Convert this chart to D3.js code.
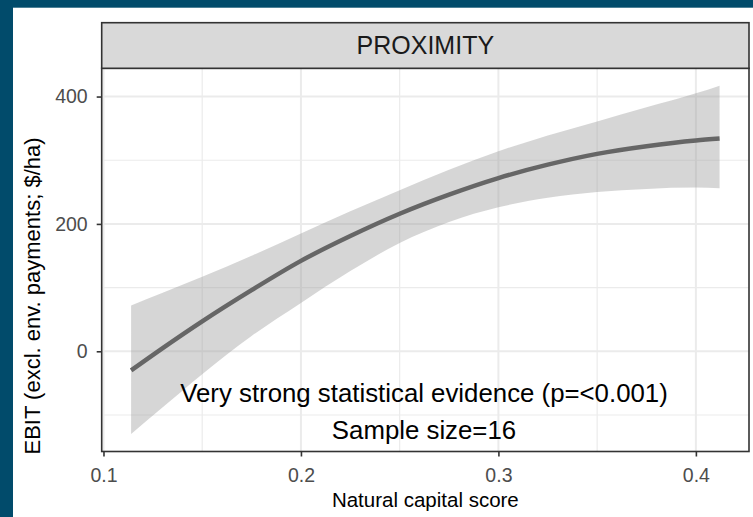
<!DOCTYPE html>
<html>
<head>
<meta charset="utf-8">
<script src="https://cdn.jsdelivr.net/npm/d3@7"></script>
<style>
  body { margin: 0; background: #ffffff; }
  svg { display: block; font-family: "Liberation Sans", Arial, sans-serif; }
</style>
</head>
<body>
<svg class="chart"></svg>
<script>
// values (natural capital score vs EBIT, $/ha)
const xScore    = [0.114, 0.13, 0.15, 0.175, 0.2, 0.225, 0.25, 0.275, 0.3, 0.325, 0.35, 0.375, 0.4, 0.412];
const fitEbit   = [-30, 5, 47, 96, 142, 181, 216, 246, 272, 293, 310, 322, 331, 334];
const lowerEbit = [-130, -88, -36, 24, 76, 126, 170, 203, 226, 241, 250, 255, 257, 256];
const upperEbit = [72, 92, 117, 150, 185, 220, 253, 285, 314, 339, 361, 383, 405, 417];

const xMajor = [0.1, 0.2, 0.3, 0.4];
const xMinor = [0.15, 0.25, 0.35];
const yMajor = [0, 200, 400];
const yMinor = [-100, 100, 300];

const stripLabel = 'PROXIMITY';
const xTitle = 'Natural capital score';
const yTitle = 'EBIT (excl. env. payments; $/ha)';
const notes = ['Very strong statistical evidence (p=<0.001)', 'Sample size=16'];

function drawChart() {
    const width = 753;
    const height = 517;
    const panel = {left: 101.7, right: 749, top: 68.3, bottom: 451.5};
    const strip = {top: 22.7, bottom: 68.3};

    let data = xScore.map((x, i) => ({x: x, fit: fitEbit[i], lo: lowerEbit[i], hi: upperEbit[i]}));

    // ggplot style 5% expansion
    let xExt = d3.extent(xScore);
    let xPad = (xExt[1] - xExt[0]) * 0.05;
    let yExt = [d3.min(lowerEbit), d3.max(upperEbit)];
    let yPad = (yExt[1] - yExt[0]) * 0.05;

    let x = d3.scaleLinear()
                .domain([xExt[0] - xPad, xExt[1] + xPad])
                .range([panel.left, panel.right]);
    let y = d3.scaleLinear()
                .domain([yExt[0] - yPad, yExt[1] + yPad])
                .range([panel.bottom, panel.top]);

    let svg = d3.select('.chart')
                .attr('width', width)
                .attr('height', height);

    // dark frame
    svg.append('rect')
        .attr('width', width).attr('height', height)
        .attr('fill', '#014b6b');
    svg.append('rect')
        .attr('x', 13).attr('y', 7.7)
        .attr('width', width - 13).attr('height', height - 7.7)
        .attr('fill', '#ffffff');

    // grid
    let grid = svg.append('g');
    grid.selectAll('.vminor').data(xMinor).enter().append('line')
        .attr('x1', d => x(d)).attr('x2', d => x(d))
        .attr('y1', panel.top).attr('y2', panel.bottom)
        .attr('stroke', '#ebebeb').attr('stroke-width', 1.2);
    grid.selectAll('.hminor').data(yMinor).enter().append('line')
        .attr('x1', panel.left).attr('x2', panel.right)
        .attr('y1', d => y(d)).attr('y2', d => y(d))
        .attr('stroke', '#ebebeb').attr('stroke-width', 1.2);
    grid.selectAll('.vmajor').data(xMajor).enter().append('line')
        .attr('x1', d => x(d)).attr('x2', d => x(d))
        .attr('y1', panel.top).attr('y2', panel.bottom)
        .attr('stroke', '#ebebeb').attr('stroke-width', 2);
    grid.selectAll('.hmajor').data(yMajor).enter().append('line')
        .attr('x1', panel.left).attr('x2', panel.right)
        .attr('y1', d => y(d)).attr('y2', d => y(d))
        .attr('stroke', '#ebebeb').attr('stroke-width', 2);

    // confidence ribbon + fitted line
    let area = d3.area()
                .x(d => x(d.x))
                .y0(d => y(d.lo))
                .y1(d => y(d.hi))
                .curve(d3.curveMonotoneX);
    let line = d3.line()
                .x(d => x(d.x))
                .y(d => y(d.fit))
                .curve(d3.curveMonotoneX);

    svg.append('path')
        .datum(data)
        .attr('d', area)
        .attr('fill', '#999999')
        .attr('fill-opacity', 0.4);
    svg.append('path')
        .datum(data)
        .attr('d', line)
        .attr('fill', 'none')
        .attr('stroke', '#666666')
        .attr('stroke-width', 4.5);

    // annotations
    svg.selectAll('.note')
        .data(notes)
        .enter()
            .append('text')
            .attr('x', 424)
            .attr('y', (d, i) => 402 + i * 37)
            .attr('text-anchor', 'middle')
            .attr('font-size', 25.8)
            .attr('fill', '#000000')
            .text(d => d);

    // panel border
    svg.append('rect')
        .attr('x', panel.left).attr('y', panel.top)
        .attr('width', panel.right - panel.left)
        .attr('height', panel.bottom - panel.top)
        .attr('fill', 'none')
        .attr('stroke', '#333333').attr('stroke-width', 1.6);

    // facet strip
    svg.append('rect')
        .attr('x', panel.left).attr('y', strip.top)
        .attr('width', panel.right - panel.left)
        .attr('height', strip.bottom - strip.top)
        .attr('fill', '#d9d9d9')
        .attr('stroke', '#333333').attr('stroke-width', 1.6);
    svg.append('text')
        .attr('x', (panel.left + panel.right) / 2)
        .attr('y', (strip.top + strip.bottom) / 2)
        .attr('dy', '0.35em')
        .attr('text-anchor', 'middle')
        .attr('font-size', 25)
        .attr('fill', '#1a1a1a')
        .text(stripLabel);

    // axes
    let xAxis = svg.append('g')
        .attr('transform', `translate(0,${panel.bottom})`)
        .call(d3.axisBottom(x).tickValues(xMajor).tickFormat(d3.format('.1f')).tickSize(5).tickPadding(11.5));
    let yAxis = svg.append('g')
        .attr('transform', `translate(${panel.left},0)`)
        .call(d3.axisLeft(y).tickValues(yMajor).tickFormat(d3.format('d')).tickSize(5).tickPadding(9));

    [xAxis, yAxis].forEach(ax => {
        ax.select('.domain').remove();
        ax.selectAll('.tick line').attr('stroke', '#333333').attr('stroke-width', 1.6);
        ax.selectAll('.tick text')
            .attr('font-size', 19.5)
            .attr('font-family', '"Liberation Sans", Arial, sans-serif')
            .attr('fill', '#4d4d4d');
    });

    svg.append('text')
        .attr('x', (panel.left + panel.right) / 2)
        .attr('y', 507)
        .attr('text-anchor', 'middle')
        .attr('font-size', 20.5)
        .attr('fill', '#000000')
        .text(xTitle);

    svg.append('text')
        .attr('transform', `translate(40,296) rotate(-90)`)
        .attr('text-anchor', 'middle')
        .attr('font-size', 22)
        .attr('fill', '#000000')
        .text(yTitle);
}

drawChart();
</script>
</body>
</html>
